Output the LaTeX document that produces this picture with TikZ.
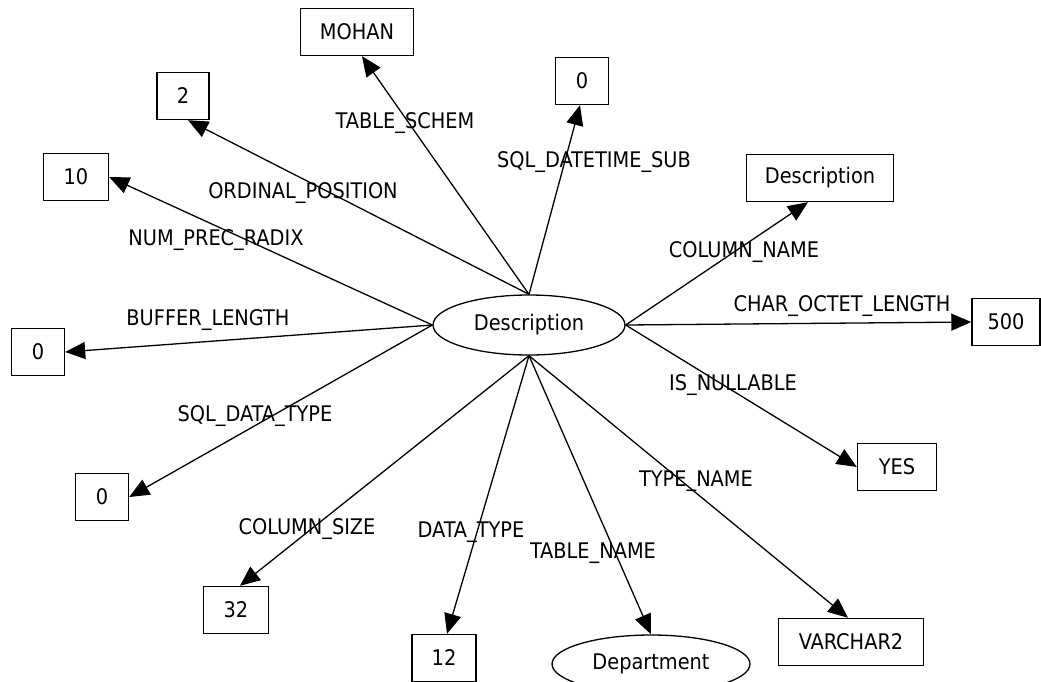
\documentclass[tikz,border=0pt]{standalone}
\usepackage{fontspec}
\setmainfont{DejaVu Sans Condensed}
\usetikzlibrary{arrows.meta,shapes.geometric}
\begin{document}
\begin{tikzpicture}[x=1pt,y=-1pt,
  every node/.style={font=\fontsize{21.5}{25}\selectfont, inner sep=0pt},
  valbox/.style={draw, line width=1.4pt, minimum height=47pt},
  ent/.style={draw, ellipse, line width=1.3pt},
  lbl/.style={},
  rel/.style={line width=1.3pt, -{Triangle[length=20pt,width=17pt]}}]
\useasboundingbox (0,0) rectangle (1041,681);
\fill[white] (0,0) rectangle (1041,681);
% central entity
\node[ent, minimum width=192pt, minimum height=60pt] (c) at (529,325) {Description};
% value nodes
\node[valbox, minimum width=113pt] (mohan) at (357,32) {MOHAN};
\node[valbox, minimum width=52pt] (two) at (183,96) {2};
\node[valbox, minimum width=65pt] (ten) at (76,177) {10};
\node[valbox, minimum width=53pt] (zt) at (582,81) {0};
\node[valbox, minimum width=147pt] (desc) at (820,178) {Description};
\node[valbox, minimum width=68pt] (five) at (1006,322) {500};
\node[valbox, minimum width=53pt] (zl) at (38,352) {0};
\node[valbox, minimum width=53pt] (zll) at (102,497) {0};
\node[valbox, minimum width=65pt] (tt) at (236,610) {32};
\node[valbox, minimum width=64pt] (twelve) at (444,658) {12};
\node[ent, minimum width=198pt, minimum height=58pt] (dept) at (651,664) {Department};
\node[valbox, minimum width=79pt] (yes) at (897,467) {YES};
\node[valbox, minimum width=145pt] (var) at (851,642) {VARCHAR2};
% connectors
\draw[rel] (c.north) -- ([xshift=5pt]mohan.south);
\draw[rel] (c.north) -- ([xshift=5pt]two.south);
\draw[rel] (c.west) -- (ten.east);
\draw[rel] (c.north) -- ([xshift=-2pt]zt.south);
\draw[rel] (c.east) -- ([xshift=-12pt]desc.south);
\draw[rel] (c.east) -- (five.west);
\draw[rel] (c.east) -- (yes.west);
\draw[rel] (c.west) -- (zl.east);
\draw[rel] (c.west) -- (zll.east);
\draw[rel] (c.south) -- ([xshift=4pt]tt.north);
\draw[rel] (c.south) -- ([xshift=3pt]twelve.north);
\draw[rel] (c.south) -- (dept.north);
\draw[rel] (c.south) -- ([xshift=-3pt]var.north);
% labels
\node[lbl] (l1) at (405,123) {TABLE\_SCHEM};
\node[lbl] (l2) at (303,193) {ORDINAL\_POSITION};
\node[lbl] (l3) at (216,240) {NUM\_PREC\_RADIX};
\node[lbl] (l4) at (208,320) {BUFFER\_LENGTH};
\node[lbl] (l5) at (594,162) {SQL\_DATETIME\_SUB};
\node[lbl] (l6) at (744,252) {COLUMN\_NAME};
\node[lbl] (l7) at (842,306) {CHAR\_OCTET\_LENGTH};
\node[lbl] (l8) at (733,385) {IS\_NULLABLE};
\node[lbl] (l9) at (696,481) {TYPE\_NAME};
\node[lbl] (l10) at (593,553) {TABLE\_NAME};
\node[lbl] (l11) at (471,532) {DATA\_TYPE};
\node[lbl] (l12) at (307,529) {COLUMN\_SIZE};
\node[lbl] (l13) at (255,416) {SQL\_DATA\_TYPE};
\end{tikzpicture}
\end{document}
